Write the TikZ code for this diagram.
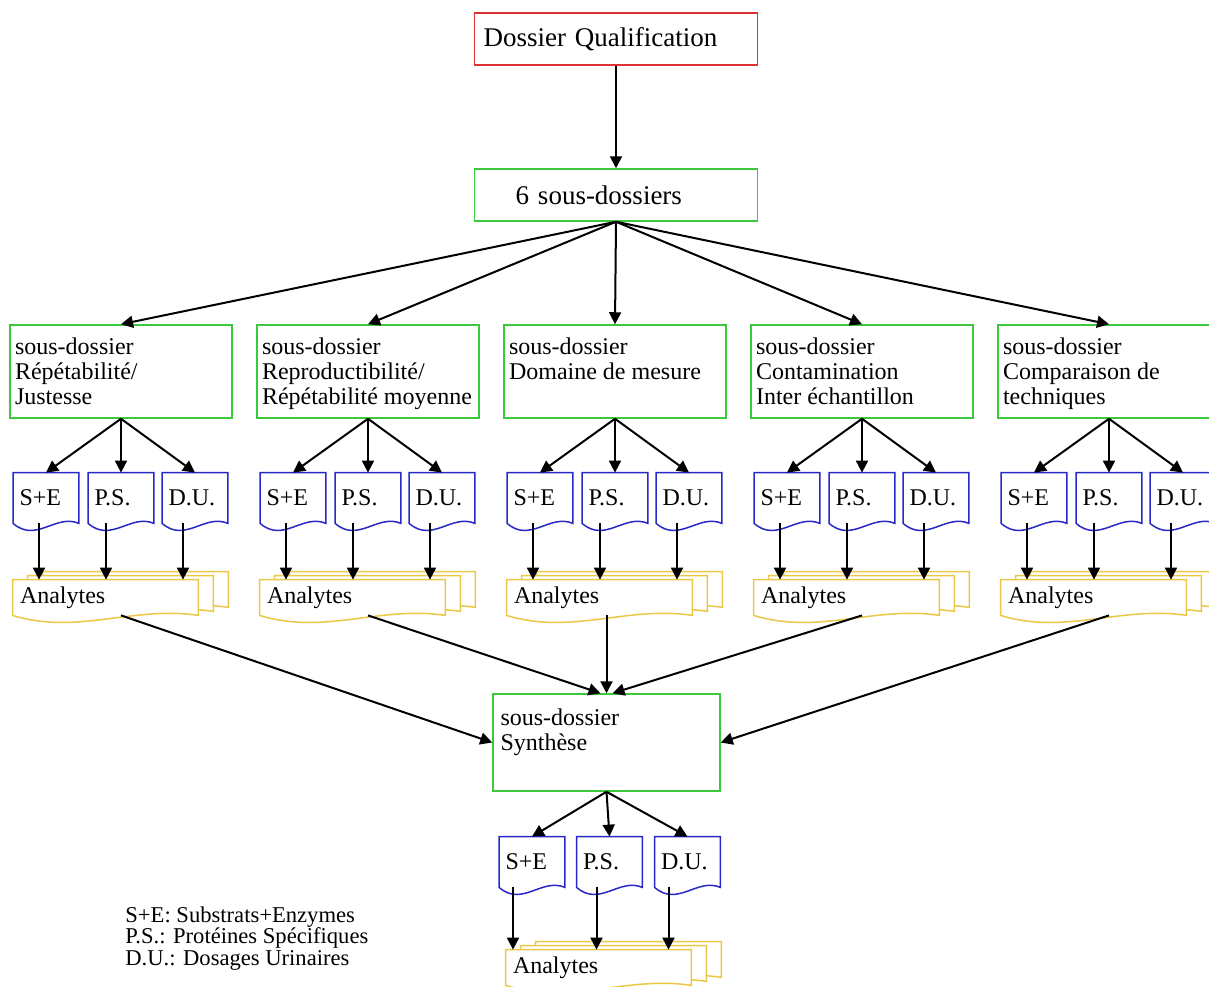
\documentclass[tikz,border=0pt]{standalone}
\usepackage{fontspec}
\setmainfont{Liberation Serif}
\usetikzlibrary{arrows.meta, positioning, backgrounds, calc}
\definecolor{boxred}{RGB}{220, 50, 50}
\definecolor{boxgreen}{RGB}{60, 200, 60}
\definecolor{docblue}{RGB}{40, 40, 200}
\definecolor{docyellow}{RGB}{235, 200, 70}

% text of a folder box, set from the top left
\newcommand{\boxtext}[3][38.5pt]{\parbox[c][#1][t]{106pt}{\raggedright\vspace*{#2}#3}}
% document outline with a wavy foot: node, dx, dy, style
\newcommand{\wavedoc}[4]{%
  \coordinate (wsw) at ([shift={(#2,#3)}]#1.south west);
  \coordinate (wse) at ([shift={(#2,#3)}]#1.south east);
  \coordinate (wnw) at ([shift={(#2,#3)}]#1.north west);
  \coordinate (wne) at ([shift={(#2,#3)}]#1.north east);
  \path[#4] (wsw) -- (wnw) -- (wne) -- (wse)
    .. controls ($(wse)!0.35!(wsw)+(0,-10)$) and ($(wse)!0.65!(wsw)+(0,20)$) .. (wsw) -- cycle;}

\begin{document}
\begin{tikzpicture}[x=0.5pt, y=-0.5pt,
    mainbox/.style={line width=0.75pt, inner xsep=4.5pt, text width=132.5pt, minimum height=26pt, align=left, font=\fontsize{13.5}{15}\selectfont},
    folder/.style={draw=boxgreen, line width=0.75pt, inner xsep=2.5pt, inner ysep=4pt, minimum width=111pt, minimum height=46.5pt, font=\fontsize{12}{12.5}\selectfont},
    doc/.style={inner xsep=3pt, inner ysep=0pt, text width=26.5pt, minimum height=25pt, align=left, font=\fontsize{12}{12.5}\selectfont},
    analytes/.style={inner xsep=3.5pt, inner ysep=0pt, text width=85.5pt, minimum height=17.5pt, align=left, font=\fontsize{12}{12.5}\selectfont},
    docline/.style={draw=docblue, line width=0.75pt},
    stackline/.style={draw=docyellow, fill=white, line width=0.75pt},
    arr/.style={-{Triangle[length=6pt, width=6pt]}, line width=1pt},
    legend/.style={inner sep=0pt, align=left, font=\fontsize{11.3}{10.8}\selectfont}
]
    \useasboundingbox (0,0) rectangle (1209,986);
    \clip (0,0) rectangle (1209,986);

    % Top
    \node[mainbox, draw=boxred] (qual) at (616,39) {Dossier Qualification};
    \node[mainbox, draw=boxgreen] (six) at (616,195) {\hspace*{16pt}6 sous-dossiers};
    \draw[arr] (qual) -- (six);

    % Sous-dossiers
    \node[folder] (sd1) at (121,371.5) {\boxtext{2.5pt}{sous-dossier\\Répétabilité/\\Justesse}};
    \node[folder] (sd2) at (368,371.5) {\boxtext{2.5pt}{sous-dossier\\Reproductibilité/\\Répétabilité moyenne}};
    \node[folder] (sd3) at (615,371.5) {\boxtext{2.5pt}{sous-dossier\\Domaine de mesure}};
    \node[folder] (sd4) at (862,371.5) {\boxtext{2.5pt}{sous-dossier\\Contamination\\Inter échantillon}};
    \node[folder] (sd5) at (1109,371.5) {\boxtext{2.5pt}{sous-dossier\\Comparaison de\\techniques}};
    \foreach \i in {1,...,5} \draw[arr] (six.south) -- (sd\i.north);

    % Documents and analytes
    \foreach \i in {1,...,5} {
        \pgfmathsetmacro{\cx}{121+247*(\i-1)}
        \node[doc] (se\i) at (\cx-75,498) {S+E};
        \node[doc] (ps\i) at (\cx,498) {P.S.};
        \node[doc] (du\i) at (\cx+74,498) {D.U.};
        \node[analytes] (an\i) at (\cx-15.5,597.5) {\raisebox{-2pt}{Analytes}};
        \foreach \d in {se,ps,du} {
            \wavedoc{\d\i}{0}{0}{docline}
            \draw[arr] (sd\i.south) -- (\d\i.north);
        }
        \begin{scope}[on background layer]
            \wavedoc{an\i}{30}{-8}{stackline}
            \wavedoc{an\i}{15}{-4}{stackline}
            \wavedoc{an\i}{0}{0}{stackline}
        \end{scope}
        \foreach \d/\s in {se/-3.5pt, ps/-7.5pt, du/-6pt}
            \draw[arr] ([xshift=\s]\d\i.south) -- ([xshift=\s]\d\i.south |- an\i.north);
    }

    % Synthese
    \node[folder, minimum width=113.5pt, minimum height=48.5pt] (syn) at (606.5,742.5) {\boxtext[40.5pt]{3.5pt}{sous-dossier\\Synthèse}};
    \draw[arr] (sd1 |- an1.south) -- (syn.west);
    \draw[arr] (sd2 |- an2.south) -- ([xshift=-3pt]syn.north);
    \draw[arr] (syn.north |- an3.south) -- (syn.north);
    \draw[arr] (sd4 |- an4.south) -- ([xshift=3pt]syn.north);
    \draw[arr] (sd5 |- an5.south) -- (syn.east);

    \node[doc] (se6) at (532,862) {S+E};
    \node[doc] (ps6) at (609.5,862) {P.S.};
    \node[doc] (du6) at (687.5,862) {D.U.};
    \node[analytes] (an6) at (598.5,967.5) {\raisebox{-2pt}{Analytes}};
    \foreach \d in {se,ps,du} {
        \wavedoc{\d6}{0}{0}{docline}
        \draw[arr] (syn.south) -- (\d6.north);
    }
    \begin{scope}[on background layer]
        \wavedoc{an6}{30}{-8}{stackline}
        \wavedoc{an6}{15}{-4}{stackline}
        \wavedoc{an6}{0}{0}{stackline}
    \end{scope}
    \foreach \d/\s in {se/-9.5pt, ps/-6.5pt, du/-9.5pt}
        \draw[arr] ([xshift=\s]\d6.south) -- ([xshift=\s]\d6.south |- an6.north);

    % Legend
    \node[legend, anchor=north west] (key) at (125,906) {S+E: Substrats+Enzymes\\P.S.: Protéines Spécifiques\\D.U.: Dosages Urinaires};
\end{tikzpicture}
\end{document}
